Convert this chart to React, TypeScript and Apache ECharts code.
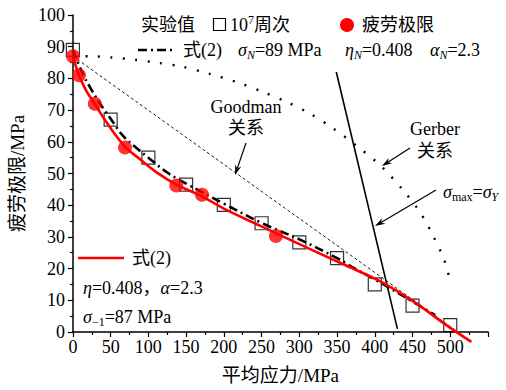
import React, { useEffect, useRef } from "react";
import * as echarts from "echarts";

const FONT = "Liberation Serif, Noto Sans CJK SC, serif";

// Axis ranges and ticks
const xMax = 550;
const xStep = 50;
const yMax = 100;
const yStep = 10;

// 10^7-cycle test values (mean stress, fatigue limit)
const testPoints: number[][] = [
  [0, 89], [50, 67], [100, 55], [150, 46.5], [200, 40.1], [250, 34.3],
  [300, 28.3], [350, 23.3], [400, 15], [450, 8.3], [500, 2.2],
];

// Fatigue-limit points
const limitPoints: number[][] = [
  [0, 87], [8, 81], [29, 72], [69, 58.2], [137, 46.2], [171, 43.3], [269, 30.3],
];

// Eq.(2) curve, sigma_-1 = 87 MPa
const eqCurve: number[][] = [
  [0, 87], [8, 81], [18, 76], [29, 72], [45, 66], [69, 58.5], [89, 54.5],
  [110, 50.5], [137, 46.5], [171, 42.8], [200, 38.9], [250, 33.3], [303, 27.4],
  [356, 21.6], [408, 15.9], [450, 9.8], [500, 1.3], [528, -3.1],
];

// Eq.(2) curve, sigma_N = 89 MPa
const eqNCurve: number[][] = [
  [0, 89], [12, 82], [22, 77.5], [36, 72], [50, 67.3], [66, 62], [82, 58.5],
  [100, 55], [125, 50.3], [150, 46.8], [200, 40.5], [250, 34.4], [303, 28.9],
  [350, 23.3], [375, 19.8], [400, 16.6], [450, 9.6], [480, 5.3],
];

// Goodman relation
const goodman: number[][] = [[0, 87], [510, 0]];

// Gerber relation
const gerber: number[][] = [
  [0, 87], [21, 87], [51, 86.6], [82, 85.9], [113, 84.9], [143, 83.8],
  [180, 81.5], [220, 78.6], [253, 75.6], [283, 72.6], [314, 68.9], [345, 64.2],
  [375, 58.9], [408, 52.4], [437, 44.9], [460, 37.8], [478, 30], [492, 22.7],
  [501, 15.1],
];

// sigma_max = sigma_Y
const yieldLine: number[][] = [[349, 82], [430, 1]];

const RICH = {
  i: { fontFamily: FONT, fontSize: 18, fontStyle: "italic", lineHeight: 22, color: "#000" },
  sub: { fontFamily: FONT, fontSize: 12, fontStyle: "italic", lineHeight: 14, verticalAlign: "bottom", color: "#000" },
  subr: { fontFamily: FONT, fontSize: 12, lineHeight: 14, verticalAlign: "bottom", color: "#000" },
  sup: { fontFamily: FONT, fontSize: 12, lineHeight: 14, verticalAlign: "top", color: "#000" },
};

function label(x: number, y: number, text: string, align = "left") {
  return {
    type: "text",
    x,
    y,
    z: 10,
    style: {
      text,
      fill: "#000",
      fontFamily: FONT,
      fontSize: 18,
      lineHeight: 22,
      align,
      verticalAlign: "middle",
      rich: RICH,
    },
  };
}

function arrow(x1: number, y1: number, x2: number, y2: number) {
  const ang = Math.atan2(y2 - y1, x2 - x1);
  const len = 10;
  const hw = 3.2;
  const bx = x2 - len * Math.cos(ang);
  const by = y2 - len * Math.sin(ang);
  const nx = -Math.sin(ang);
  const ny = Math.cos(ang);
  const mx = x2 - len * 0.7 * Math.cos(ang);
  const my = y2 - len * 0.7 * Math.sin(ang);
  return {
    type: "group",
    z: 10,
    children: [
      { type: "line", shape: { x1, y1, x2: mx, y2: my }, style: { stroke: "#000", lineWidth: 1.2 } },
      {
        type: "polygon",
        shape: { points: [[x2, y2], [bx + nx * hw, by + ny * hw], [mx, my], [bx - nx * hw, by - ny * hw]] },
        style: { fill: "#000" },
      },
    ],
  };
}

export default function App() {
  const ref = useRef<HTMLDivElement>(null);

  useEffect(() => {
    document.body.style.margin = "0";
    const chart = echarts.init(ref.current!, null, { renderer: "svg" });

    const axisText = { fontFamily: FONT, fontSize: 18, color: "#000" };

    chart.setOption({
      animation: false,
      textStyle: { fontFamily: FONT },
      grid: { left: 69, right: 18, top: 15, bottom: 56 },
      xAxis: {
        type: "value",
        min: 0,
        max: xMax,
        interval: xStep,
        axisLine: { show: true, onZero: false, lineStyle: { color: "#000", width: 1.5 } },
        axisTick: { show: true, length: 5, lineStyle: { color: "#000", width: 1.2 } },
        minorTick: { show: true, splitNumber: 2, length: 3, lineStyle: { color: "#000", width: 1.2 } },
        splitLine: { show: false },
        axisLabel: {
          ...axisText,
          margin: 6,
          formatter: (v: number) => (v >= xMax ? "" : String(v)),
        },
        name: "平均应力/MPa",
        nameLocation: "middle",
        nameGap: 34,
        nameTextStyle: { ...axisText, fontSize: 19 },
      },
      yAxis: {
        type: "value",
        min: 0,
        max: yMax,
        interval: yStep,
        axisLine: { show: true, onZero: false, lineStyle: { color: "#000", width: 1.5 } },
        axisTick: { show: true, length: 5, lineStyle: { color: "#000", width: 1.2 } },
        minorTick: { show: true, splitNumber: 2, length: 3, lineStyle: { color: "#000", width: 1.2 } },
        splitLine: { show: false },
        axisLabel: { ...axisText, margin: 8 },
        name: "疲劳极限/MPa",
        nameLocation: "middle",
        nameGap: 44,
        nameTextStyle: { ...axisText, fontSize: 19 },
      },
      series: [
        {
          type: "line",
          data: gerber,
          smooth: 0.3,
          symbol: "none",
          lineStyle: { color: "#000", width: 2.4, type: [2, 10.5] },
          z: 2,
        },
        {
          type: "line",
          data: goodman,
          symbol: "none",
          lineStyle: { color: "#000", width: 0.9, type: [3, 2.5] },
          z: 2,
        },
        {
          type: "line",
          data: yieldLine,
          symbol: "none",
          lineStyle: { color: "#000", width: 1.6 },
          z: 2,
        },
        {
          type: "scatter",
          data: testPoints,
          symbol: "rect",
          symbolSize: 13,
          itemStyle: { color: "rgba(255,255,255,0)", borderColor: "#000", borderWidth: 1.2 },
          z: 3,
        },
        {
          type: "line",
          data: eqNCurve,
          smooth: 0.4,
          symbol: "none",
          lineStyle: { color: "#000", width: 2.6, type: [9, 4, 2, 4] },
          z: 4,
        },
        {
          type: "line",
          data: eqCurve,
          smooth: 0.4,
          symbol: "none",
          clip: false,
          lineStyle: { color: "#ff0000", width: 2.6 },
          z: 5,
        },
        {
          type: "scatter",
          data: limitPoints,
          symbol: "circle",
          symbolSize: 14,
          itemStyle: { color: "#ff0000" },
          z: 6,
        },
      ],
      graphic: [
        // top legend, first row
        label(141, 25, "实验值"),
        { type: "rect", z: 10, shape: { x: 213.5, y: 18.5, width: 12, height: 12 }, style: { fill: "none", stroke: "#000", lineWidth: 1.2 } },
        label(230, 25, "10{sup|7}周次"),
        { type: "circle", z: 10, shape: { cx: 347, cy: 25, r: 7 }, style: { fill: "#ff0000" } },
        label(362, 25, "疲劳极限"),
        // top legend, second row
        { type: "line", z: 10, shape: { x1: 138, y1: 50, x2: 176, y2: 50 }, style: { stroke: "#000", lineWidth: 2.6, lineDash: [9, 4, 2, 4] } },
        label(183, 50, "式(2)"),
        label(238, 50, "{i|σ}{sub|N}=89 MPa"),
        label(345, 50, "{i|η}{sub|N}=0.408"),
        label(430, 50, "{i|α}{sub|N}=2.3"),
        // lower-left legend
        { type: "line", z: 10, shape: { x1: 78, y1: 258, x2: 124, y2: 258 }, style: { stroke: "#ff0000", lineWidth: 2.6 } },
        label(132, 258, "式(2)"),
        label(83, 288, "{i|η}=0.408，{i|α}=2.3"),
        label(83, 317, "{i|σ}{subr|−1}=87 MPa"),
        // Goodman note
        label(246, 107, "Goodman", "center"),
        label(246, 128, "关系", "center"),
        arrow(246, 143, 235, 175),
        // Gerber note
        label(435, 129, "Gerber", "center"),
        label(435, 151, "关系", "center"),
        arrow(410, 148, 382, 166),
        // yield note
        label(443, 192, "{i|σ}{subr|max}={i|σ}{sub|Y}"),
        arrow(436, 190, 375, 226),
      ],
    });

    return () => chart.dispose();
  }, []);

  return <div ref={ref} style={{ width: 506, height: 390 }} />;
}
